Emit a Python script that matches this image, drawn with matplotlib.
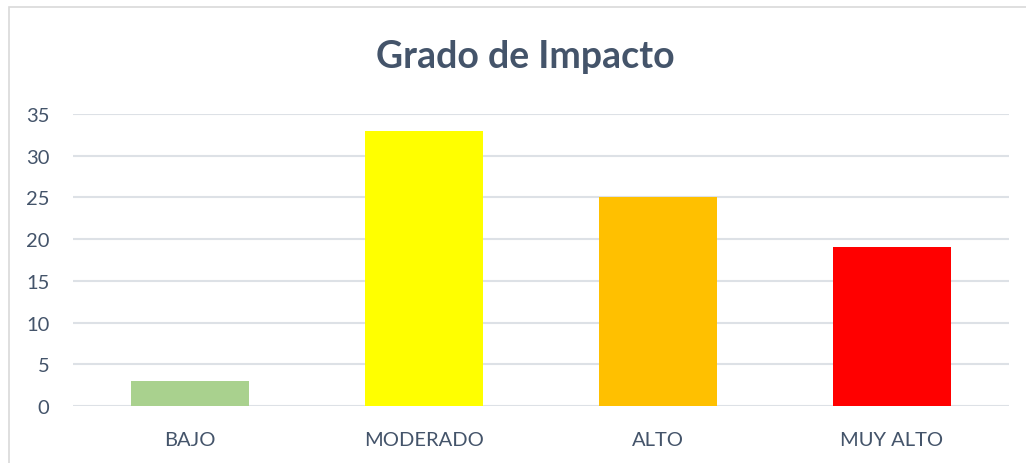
import matplotlib
matplotlib.use("Agg")
import matplotlib.pyplot as plt
from matplotlib.patches import Rectangle

categories = ["BAJO", "MODERADO", "ALTO", "MUY ALTO"]
values = [3, 33, 25, 19]
colors = ["#A9D18E", "#FFFF00", "#FFC000", "#FF0000"]
yticks = [0, 5, 10, 15, 20, 25, 30, 35]

text_color = "#44546A"
grid_color = "#DDE1E6"

plt.rcParams["font.family"] = ["Lato", "DejaVu Sans"]

fig = plt.figure(figsize=(10.26, 4.64), dpi=100)
W, H = 1026, 464

# chart border (cut off on right and bottom like the screenshot)
fig.patches.append(Rectangle((9 / W, -0.1), 1.2, (H - 8) / H + 0.1,
                             transform=fig.transFigure, fill=False,
                             edgecolor="#D9D9D9", linewidth=1.2))

ax = fig.add_axes([73 / W, (H - 407) / H, (1009 - 73) / W, (407 - 115) / H])
x = range(len(categories))
ax.bar(x, values, width=0.505, color=colors, zorder=3)

ax.set_xlim(-0.5, len(categories) - 0.5)
ax.set_ylim(0, 35)
ax.set_yticks(yticks)
ax.set_xticks(list(x))
ax.set_xticklabels(categories)
ax.yaxis.grid(True, color=grid_color, linewidth=1.5, zorder=0)
ax.set_axisbelow(True)
for s in ["top", "right", "left", "bottom"]:
    ax.spines[s].set_visible(False)
ax.tick_params(axis="both", length=0, labelsize=14.5, colors=text_color)
ax.tick_params(axis="x", pad=18)
ax.tick_params(axis="y", pad=17)

fig.text(525 / W, 1 - 57 / H, "Grado de Impacto", ha="center", va="center",
         fontsize=27, fontweight="bold", color=text_color)

fig.savefig("out.png", dpi=100, facecolor="white")
